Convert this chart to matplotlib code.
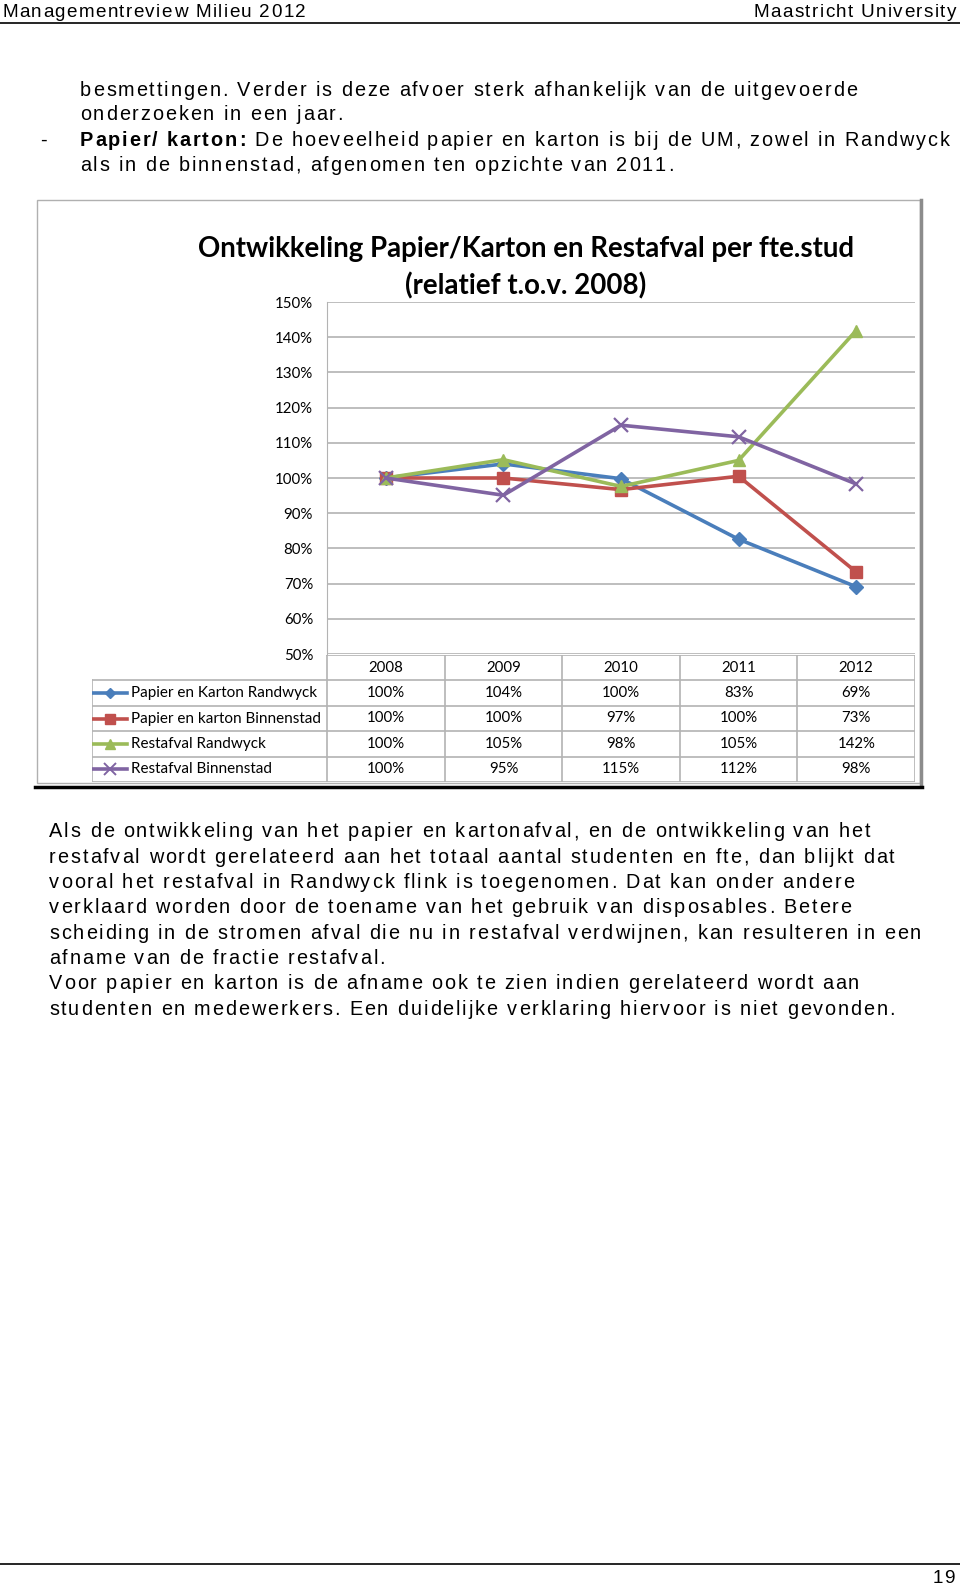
import matplotlib
matplotlib.use("Agg")
import matplotlib.pyplot as plt
from matplotlib.lines import Line2D
from matplotlib.patches import Rectangle
from matplotlib.font_manager import FontProperties

W, H = 960, 1589

years = ["2008", "2009", "2010", "2011", "2012"]
series_names = ["Papier en Karton Randwyck", "Papier en karton Binnenstad",
                "Restafval Randwyck", "Restafval Binnenstad"]
papier_randwyck = [100, 104.0, 99.8, 82.6, 69.1]
papier_binnenstad = [100, 100.0, 96.7, 100.5, 73.3]
restafval_randwyck = [100, 105.2, 97.6, 105.0, 141.9]
restafval_binnenstad = [100, 95.1, 115.0, 111.7, 98.3]
series_values = [papier_randwyck, papier_binnenstad, restafval_randwyck, restafval_binnenstad]
y_ticks = [50, 60, 70, 80, 90, 100, 110, 120, 130, 140, 150]

colors = ["#4a7ebb", "#c0504d", "#9bbb59", "#8064a2"]
markers = ["D", "s", "^", "x"]
msizes = [7, 9, 9, 10]

header_left = "Managementreview Milieu 2012"
header_right = "Maastricht University"
intro_lines = [
    "besmettingen. Verder is deze afvoer sterk afhankelijk van de uitgevoerde",
    "onderzoeken in een jaar.",
]
bullet_bold = "Papier/ karton:"
bullet_rest = " De hoeveelheid papier en karton is bij de UM, zowel in Randwyck"
bullet_line2 = "als in de binnenstad, afgenomen ten opzichte van 2011."
paragraph = [
    "Als de ontwikkeling van het papier en kartonafval, en de ontwikkeling van het",
    "restafval wordt gerelateerd aan het totaal aantal studenten en fte, dan blijkt dat",
    "vooral het restafval in Randwyck flink is toegenomen. Dat kan onder andere",
    "verklaard worden door de toename van het gebruik van disposables. Betere",
    "scheiding in de stromen afval die nu in restafval verdwijnen, kan resulteren in een",
    "afname van de fractie restafval.",
    "Voor papier en karton is de afname ook te zien indien gerelateerd wordt aan",
    "studenten en medewerkers. Een duidelijke verklaring hiervoor is niet gevonden.",
]
title = "Ontwikkeling Papier/Karton en Restafval per fte.stud\n(relatief t.o.v. 2008)"
page_number = "19"

body = ["Liberation Sans", "DejaVu Sans"]
chartfont = ["Lato", "DejaVu Sans"]
BODY_FS = 14.3
BODY_TRACK = 1.86
HEAD_FS = 13.6
HEAD_TRACK = 1.4


def fx(x):
    return x / W


def fy(y):
    return 1 - y / H


fig = plt.figure(figsize=(W / 100, H / 100), dpi=100)
fig.patch.set_facecolor("white")
renderer = fig.canvas.get_renderer()


def text_width(s, size, weight="normal"):
    fp = FontProperties(family=body, size=size, weight=weight)
    w, _, _ = renderer.get_text_width_height_descent(s, fp, ismath=False)
    return w


def tracked(x, y, s, size, track, weight="normal"):
    # pdf-tekst heeft extra letterafstand, dus teken letter voor letter
    base = y + 0.47 * size
    for ch in s:
        if ch != " ":
            fig.text(fx(x), fy(base), ch, family=body, fontsize=size,
                     weight=weight, va="baseline")
        x += text_width(ch, size, weight) + track
    return x


def tracked_right(x_right, y, s, size, track):
    w = sum(text_width(ch, size) + track for ch in s) - track
    tracked(x_right - w, y, s, size, track)


# kop van de pagina
tracked(2, 10.5, header_left, HEAD_FS, HEAD_TRACK)
tracked_right(956, 10.5, header_right, HEAD_FS, HEAD_TRACK)
fig.add_artist(Line2D([0, 1], [fy(23), fy(23)], color="black", lw=1.2))

# tekst boven de grafiek
tracked(80, 89.2, intro_lines[0], BODY_FS, BODY_TRACK)
tracked(80, 113.6, intro_lines[1], BODY_FS, BODY_TRACK)
tracked(40, 139, "-", BODY_FS, BODY_TRACK)
xe = tracked(80, 139, bullet_bold, BODY_FS, BODY_TRACK, weight="bold")
tracked(xe, 139, bullet_rest, BODY_FS, BODY_TRACK)
tracked(80, 164.2, bullet_line2, BODY_FS, BODY_TRACK)

# kader van de grafiek
fig.add_artist(Rectangle((fx(37), fy(783)), fx(920 - 37), (783 - 200) / H,
                         fill=False, edgecolor="#b0b0b0", lw=1))
fig.add_artist(Line2D([fx(921), fx(921)], [fy(200), fy(785)], color="#8c8c8c", lw=2.5))
fig.add_artist(Line2D([fx(35), fx(922)], [fy(787), fy(787)], color="black", lw=2.5))

fig.text(fx(526), fy(267.5), title, family=chartfont, weight="bold", fontsize=19.9,
         ha="center", va="center", linespacing=1.45)

# grafiekgebied
ax = fig.add_axes([fx(327), fy(654), fx(915 - 327), (654 - 302) / H])
x = list(range(len(years)))
for vals, c, m, ms in zip(series_values, colors, markers, msizes):
    ax.plot(x, vals, color=c, lw=2.6, marker=m, markersize=ms,
            markeredgecolor=c, markeredgewidth=1.6 if m == "x" else 1)
ax.set_xlim(-0.5, len(years) - 0.5)
ax.set_ylim(y_ticks[0], y_ticks[-1])
ax.set_yticks(y_ticks)
ax.set_yticklabels([f"{t}%" for t in y_ticks], family=chartfont, fontsize=10.8)
ax.set_xticks([])
ax.tick_params(axis="y", length=0, pad=10)
ax.grid(axis="y", color="#b3b3b3", lw=1.2)
ax.set_axisbelow(True)
for s in ["top", "right", "bottom"]:
    ax.spines[s].set_visible(False)
ax.spines["left"].set_color("#b3b3b3")
ax.patch.set_alpha(0)

# gegevenstabel
tax = fig.add_axes([fx(92), fy(782), fx(915 - 92), (782 - 655) / H])
tax.set_xlim(-2.5, len(years) - 0.5)
tax.set_ylim(len(series_names) + 1, 0)
tax.axis("off")
gc = "#b3b3b3"
tax.plot([-0.5, len(years) - 0.5], [0, 0], color=gc, lw=1.2)
for r in range(1, len(series_names) + 2):
    tax.plot([-2.5, len(years) - 0.5], [r, r], color=gc, lw=1.2)
for c in range(len(years) + 1):
    tax.plot([c - 0.5, c - 0.5], [0, len(series_names) + 1], color=gc, lw=1.2)
tax.plot([-2.5, -2.5], [1, len(series_names) + 1], color=gc, lw=1.2)
for i, yr in enumerate(years):
    tax.text(i, 0.5, yr, family=chartfont, fontsize=10.8, ha="center", va="center")
for r, (name, vals, c, m, ms) in enumerate(zip(series_names, series_values, colors, markers, msizes)):
    yy = r + 1.5
    tax.plot([-2.49, -2.2], [yy, yy], color=c, lw=2.6)
    tax.plot([-2.345], [yy], color=c, marker=m, markersize=ms * 0.8,
             markeredgecolor=c, markeredgewidth=1.4 if m == "x" else 1)
    tax.text(-2.17, yy, name, family=chartfont, fontsize=11, ha="left", va="center")
    for i, v in enumerate(vals):
        tax.text(i, yy, f"{v:.0f}%", family=chartfont, fontsize=10.8, ha="center", va="center")

# tekst onder de grafiek
for k, line in enumerate(paragraph):
    tracked(49, 830.5 + 25.35 * k, line, BODY_FS, BODY_TRACK)

# voet van de pagina
fig.add_artist(Line2D([0, 1], [fy(1564), fy(1564)], color="black", lw=1.2))
tracked_right(955, 1577, page_number, HEAD_FS, HEAD_TRACK)

fig.savefig("out.png", dpi=100, facecolor="white")
